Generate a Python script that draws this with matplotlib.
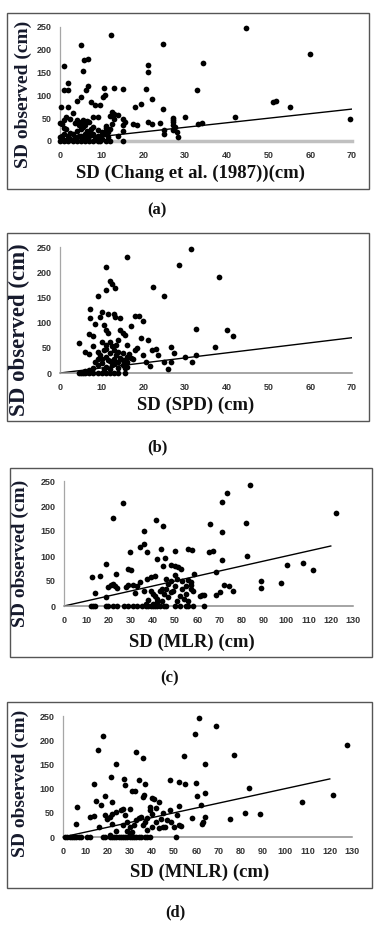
import matplotlib
matplotlib.use("Agg")
import matplotlib.pyplot as plt
from matplotlib.patches import Rectangle

# (a) SD (Chang et al. 1987) vs observed
a_x = [12.2, 44.7, 5.1, 24.6, 60, 5.7, 6.7, 1, 21.1, 21.2, 5.6, 34.3, 2, 6.8, 1, 1.8, 6.2, 10.5, 10.7, 10.4,
       13, 15.1, 20.5, 32.8, 22.1, 5, 4, 7.5, 8.5, 9.5, 19.5, 18, 51, 51.8, 55.2, 0.2, 2, 3, 12.5, 13,
       14, 12, 24.7, 30, 42, 69.5, 0, 0.5, 1, 1.5, 4, 5, 6, 6.5, 8, 9, 15, 15.5, 15, 17.5,
       18.5, 21, 22, 24, 27, 27, 27, 27, 27.5, 27, 28, 25, 25, 28.2, 33, 34, 15, 11, 11, 11,
       11.5, 10.5, 12, 9, 0, 0.5, 1, 1, 1.5, 2, 2.5, 3, 3, 4, 4.5, 5, 5.5, 6, 6, 6.5,
       7, 7.5, 8, 8, 9, 9.5, 10, 11, 12, 15, 2, 4, 5, 6, 7, 0.5, 1.5, 3.5, 5, 7,
       8.5, 9.5, 10, 2.5, 3.5, 4.5, 5.5, 7, 8, 9, 1, 0, 2.5, 13, 12.5, 11.5, 14]
a_y = [232, 248, 210, 213, 191, 178, 180, 164, 167, 152, 153, 170, 127, 120, 111, 111, 111, 117, 101, 96,
       117, 115, 114, 111, 93, 96, 87, 85, 80, 79, 81, 75, 86, 87, 74, 74, 75, 62, 64, 60,
       58, 55, 70, 53, 53, 48, 39, 37, 46, 52, 46, 41, 35, 43, 52, 52, 49, 41, 35, 38,
       35, 41, 38, 39, 50, 46, 41, 36, 30, 25, 20, 25, 15, 8, 38, 39, 21, 32, 28, 23,
       19, 15, 26, 10, 0, 5, 0, 15, 26, 10, 5, 16, 0, 22, 10, 27, 31, 16, 5, 22,
       10, 27, 16, 0, 0, 0, 5, 0, 0, 0, 0, 0, 0, 0, 0, 10, 3, 8, 12, 18,
       9, 12, 20, 18, 40, 35, 45, 42, 30, 25, 28, 8, 48, 48, 38, 8, 12]

# (b) SD (SPD) vs observed
b_x = [31.3, 16, 28.6, 11, 38.2, 12, 12.5, 13.2, 11, 22.3, 9, 25, 7.2, 7.2, 10, 9.7, 11.5, 13, 13.3, 14.5,
       18, 19, 20, 17, 8.5, 10.5, 11, 11.5, 14.5, 15.2, 15.5, 7, 8, 14, 19.5, 21, 32.5, 40, 41.5, 37.2,
       4.5, 6, 7, 8, 9, 10, 11, 12, 12.5, 13, 14, 13.5, 11, 10, 12, 15, 16, 17, 18, 18.5,
       16, 20, 20.5, 21.5, 22, 23, 23.5, 26.5, 27.3, 26.7, 25, 26, 30, 32.5, 31.7,
       4.5, 5, 5.5, 6, 6.5, 7, 8, 9, 10, 11, 12, 13, 14, 15.5, 8, 9, 10, 11, 12, 13,
       14, 15, 7, 6, 16, 9.5, 10.5, 12, 13, 14.5, 15, 16.5, 17.5, 11.5, 9, 12.5, 10.5, 14, 15.5, 8.5,
       13.5, 11, 16]
b_y = [247, 230, 214, 210, 190, 182, 177, 169, 164, 171, 152, 152, 126, 110, 122, 111, 118, 118, 112, 110,
       113, 114, 104, 93, 97, 95, 85, 80, 86, 80, 76, 77, 74, 66, 69, 66, 88, 86, 73, 52,
       59, 42, 38, 54, 42, 61, 56, 62, 53, 46, 41, 36, 31, 28, 23, 26, 31, 29, 46, 49,
       55, 35, 21, 13, 45, 47, 35, 52, 40, 22, 22, 7, 32, 36, 21,
       0, 0, 0, 0, 2, 0, 0, 0, 0, 0, 0, 0, 0, 0, 10, 16, 20, 12, 8, 18,
       10, 16, 5, 3, 21, 35, 45, 40, 28, 30, 40, 38, 28, 25, 28, 15, 8, 22, 10, 22,
       55, 48, 12]

# (c) SD (MLR) vs observed
c_x = [83.5, 73.5, 71, 26.7, 22.2, 41.5, 44.7, 65.7, 82, 122.2, 35.8, 71, 36.1, 34, 37.5, 43.5, 42, 45.5, 44.5, 29.5,
       29, 30, 19, 23.5, 16, 12.5, 14, 19, 20, 21, 22, 23, 24, 28, 29, 31, 33, 34, 32, 37.5,
       39, 41, 50, 48, 50, 51.5, 52.5, 56, 57.5, 65, 67, 71, 82.5, 68.5, 58.5, 56, 57, 55, 57, 58,
       72, 74, 76, 70, 68.5, 62, 61, 63, 88.5, 88.5, 97.5, 100.5, 107.5, 112,
       12, 13, 14, 19, 20, 22, 24, 27, 29, 31, 33, 35, 37, 38, 39, 40, 41, 42, 43, 45,
       46, 50, 52, 55, 56, 58, 63,
       40, 41, 42, 43, 44, 45, 46, 47, 48, 49, 50, 51, 52, 53, 54, 55, 56, 40, 42, 38,
       39, 47, 50, 48, 53, 51, 57, 44, 46, 36, 37]
c_y = [243, 227, 208, 206, 177, 173, 161, 164, 167, 186, 150, 148, 125, 118, 109, 115, 95, 96, 80, 109,
       74, 72, 85, 65, 60, 58, 27, 18, 38, 42, 45, 40, 36, 38, 42, 42, 40, 48, 27, 55,
       58, 60, 110, 82, 80, 78, 75, 115, 112, 108, 110, 92, 100, 68, 65, 52, 48, 40, 35, 30,
       42, 40, 31, 28, 22, 22, 20, 22, 50, 37, 47, 83, 86, 72,
       0, 0, 0, 0, 0, 0, 0, 0, 0, 0, 0, 0, 0, 0, 0, 0, 0, 0, 0, 0,
       0, 0, 0, 0, 0, 0, 0,
       25, 20, 15, 30, 10, 25, 35, 45, 50, 30, 40, 55, 20, 35, 15, 25, 10, 5, 8, 12,
       30, 18, 62, 28, 50, 10, 42, 35, 55, 30, 5]

# (d) SD (MNLR) vs observed
d_x = [61, 68.8, 59.2, 17.8, 15.6, 32.8, 35.8, 54.3, 76.7, 127.9, 23.9, 63.7, 13.9, 21.5, 27.5, 28, 31, 32.5, 34.1, 37,
       36.5, 36, 48, 52, 55, 60, 60.5, 64, 62, 83.5, 121.5, 107.5, 75, 82, 88.5, 58, 64, 63, 62.5, 52,
       51.5, 52, 53, 50, 48, 48.5, 45, 44, 46, 43, 42, 40, 41, 43, 39, 39, 40, 38, 37, 36,
       38, 40, 19, 22, 15, 17, 6.5, 6, 12, 14, 16, 19, 20, 21, 22, 24, 26, 27, 28, 30,
       22, 24, 21, 27, 29, 30, 31, 32, 33, 34, 35, 29, 30, 45, 42, 47,
       1, 2, 3, 4, 5, 6, 7, 8, 11, 12, 18, 19, 21, 22, 23, 24, 25, 26, 27, 28,
       29, 30, 31, 32, 33, 34, 35, 37, 38, 39, 51]
d_y = [246, 230, 212, 209, 180, 175, 163, 168, 170, 190, 150, 151, 110, 124, 119, 108, 96, 96, 117, 110,
       86, 82, 117, 114, 109, 112, 85, 91, 67, 102, 86, 73, 37, 50, 47, 39, 42, 30, 27, 65,
       45, 25, 22, 20, 55, 30, 50, 37, 20, 18, 32, 80, 78, 73, 63, 55, 48, 40, 30, 25,
       15, 20, 85, 72, 75, 67, 61, 27, 42, 43, 20, 45, 38, 42, 48, 52, 55, 58, 45, 58,
       27, 12, 5, 25, 30, 20, 10, 25, 35, 40, 42, 12, 5, 20, 60, 35,
       0, 0, 0, 0, 0, 0, 0, 0, 0, 0, 0, 0, 0, 0, 0, 0, 0, 0, 0, 0,
       0, 0, 0, 0, 0, 0, 0, 0, 0, 0, 0]

W, H = 376, 930
serif = "Liberation Serif"


def px_rect(x0, y0, x1, y1):
    # pixel box (top-left origin) -> figure fraction [l, b, w, h]
    return [x0 / W, 1 - y1 / H, (x1 - x0) / W, (y1 - y0) / H]


def draw_panel(fig, axrect, box, xs, ys, xmax, line_end, xlabel, xlab_pos, ylab_pos, ylab_size,
               tag, tag_pos, thick_xaxis=False):
    fig.patches.append(Rectangle((box[0] / W, 1 - box[3] / H), (box[2] - box[0]) / W, (box[3] - box[1]) / H,
                                 transform=fig.transFigure, fill=False, edgecolor="#555555", lw=1.0))
    ax = fig.add_axes(px_rect(*axrect))
    ax.set_xlim(0, xmax)
    ax.set_ylim(0, 250)
    for s in ["top", "right"]:
        ax.spines[s].set_visible(False)
    ax.spines["left"].set_color("#a6a6a6")
    ax.spines["left"].set_linewidth(0.9)
    if thick_xaxis:
        ax.spines["bottom"].set_color("#c0c0c0")
        ax.spines["bottom"].set_linewidth(2.5)
    else:
        ax.spines["bottom"].set_color("#8c8c8c")
        ax.spines["bottom"].set_linewidth(1.1)
    ax.set_xticks(range(0, xmax + 1, 10))
    ax.set_yticks(range(0, 251, 50))
    ax.tick_params(length=0, labelsize=6.5, labelcolor="#333333")
    ax.tick_params(axis="x", pad=7)
    ax.tick_params(axis="y", pad=6)
    for lab in ax.get_xticklabels() + ax.get_yticklabels():
        lab.set_fontweight("bold")
        lab.set_family("Liberation Sans")
    ax.patch.set_alpha(0)

    ax.plot([0, line_end], [0, line_end], color="black", lw=1.0, zorder=2)
    ax.scatter(xs, ys, s=17, color="black", zorder=3, clip_on=False, linewidths=0)

    fig.text(xlab_pos[0] / W, 1 - xlab_pos[1] / H, xlabel, ha="center", va="center",
             family=serif, fontweight="bold", fontsize=13.5, color="#111111")
    fig.text(ylab_pos[0] / W, 1 - ylab_pos[1] / H, "SD observed (cm)", ha="center", va="center",
             rotation=90, family=serif, fontweight="bold", fontsize=ylab_size, color="#161a2c")
    fig.text(tag_pos[0] / W, 1 - tag_pos[1] / H, tag, ha="center", va="center",
             family=serif, fontweight="bold", fontsize=12, color="#111111")
    return ax


fig = plt.figure(figsize=(W / 100, H / 100), dpi=100)
fig.patch.set_facecolor("white")

draw_panel(fig, (60, 27, 352, 141), (7, 13, 369, 189), a_x, a_y, 70, 70,
           "SD (Chang et al. (1987))(cm)", (191, 173), (23, 94), 14, "(a)", (157, 210), thick_xaxis=True)
draw_panel(fig, (60, 247, 352, 373), (7, 233, 369, 421), b_x, b_y, 70, 70,
           "SD (SPD) (cm)", (196, 405), (19, 330), 16.5, "(b)", (157, 447))
draw_panel(fig, (64, 481, 353, 606), (10, 468, 372, 657), c_x, c_y, 130, 120,
           "SD (MLR) (cm)", (192, 642), (20, 553), 14, "(c)", (170, 678))
draw_panel(fig, (63, 716, 352, 837), (7, 702, 372, 888), d_x, d_y, 130, 120,
           "SD (MNLR) (cm)", (200, 872), (20, 783), 14, "(d)", (175, 912))

fig.savefig("out.png", dpi=100)
